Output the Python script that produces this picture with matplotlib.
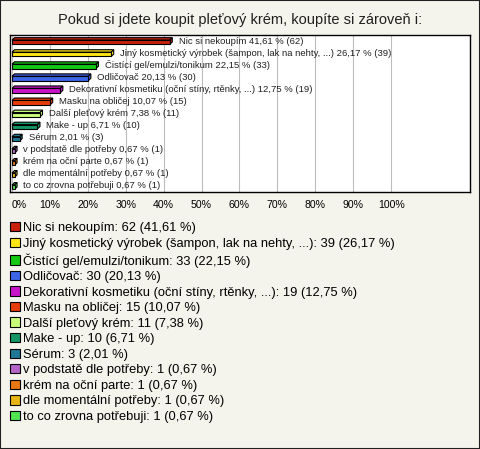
import matplotlib
matplotlib.use('Agg')
import matplotlib.pyplot as plt
from matplotlib.patches import Polygon, Patch, Rectangle

plt.rcParams['font.family'] = ['Liberation Sans', 'DejaVu Sans']

title = 'Pokud si jdete koupit pleťový krém, koupíte si zároveň i:'
categories = [
    'Nic si nekoupím',
    'Jiný kosmetický výrobek (šampon, lak na nehty, ...)',
    'Čistící gel/emulzi/tonikum',
    'Odličovač',
    'Dekorativní kosmetiku (oční stíny, rtěnky, ...)',
    'Masku na obličej',
    'Další pleťový krém',
    'Make - up',
    'Sérum',
    'v podstatě dle potřeby',
    'krém na oční parte',
    'dle momentální potřeby',
    'to co zrovna potřebuji',
]
counts = [62, 39, 33, 30, 19, 15, 11, 10, 3, 1, 1, 1, 1]
percents = [41.61, 26.17, 22.15, 20.13, 12.75, 10.07, 7.38, 6.71, 2.01, 0.67, 0.67, 0.67, 0.67]
colors = ['#C8200C', '#FFE614', '#14C814', '#3C64E6', '#C814C8', '#E63C0A', '#C8FF78',
          '#149664', '#1E7896', '#B464C8', '#E67814', '#E6B414', '#50E650']
xticks = [0, 10, 20, 30, 40, 50, 60, 70, 80, 90, 100]

def fmt(v):
    return f'{v:.2f}'.replace('.', ',')

fig = plt.figure(figsize=(4.8, 4.49), dpi=100, facecolor='#F4F3EC')
fig.patches.append(Rectangle((0, 0), 1, 1, transform=fig.transFigure, fill=False,
                             edgecolor='#202020', lw=1.5))

ax = fig.add_axes([10 / 480, 1 - 192 / 449, 460 / 480, 157 / 449])
ax.set_facecolor('white')
ax.set_xlim(-0.53, 120.8)
n = len(categories)
ax.set_ylim(n - 0.5, -0.5)
ax.set_xticks(xticks)
ax.set_xticklabels([f'{t}%' for t in xticks], fontsize=7.6)
ax.get_xticklabels()[0].set_horizontalalignment('left')
ax.tick_params(axis='x', length=0, pad=5.5)
ax.set_yticks([])
ax.grid(axis='x', color='#BDBDBD', lw=0.8)
ax.set_axisbelow(True)
for s in ax.spines.values():
    s.set_color('black')
    s.set_linewidth(1)

h = 0.36
dx = 0.66
dy = 0.2
for i, (cat, c, p, col) in enumerate(zip(categories, counts, percents, colors)):
    yc = i + dy / 2
    top = yc - h / 2
    bot = yc + h / 2
    faces = [
        [(0, top), (p, top), (p + dx, top - dy), (dx, top - dy)],
        [(p, top), (p + dx, top - dy), (p + dx, bot - dy), (p, bot)],
        [(0, top), (p, top), (p, bot), (0, bot)],
    ]
    for f in faces:
        ax.add_patch(Polygon(f, closed=True, facecolor=col, edgecolor='black', lw=0.8, zorder=3))
    ax.text(p + dx + 1.7, i, f'{cat} {fmt(p)} % ({c})', fontsize=6.8, va='center', ha='left',
            color='#202020', zorder=4)

fig.text(0.5, 1 - 20 / 449, title, ha='center', va='center', fontsize=10.5, color='#202020')

handles = [Patch(facecolor=col, edgecolor='black', lw=0.8) for col in colors]
labels = [f'{cat}: {c} ({fmt(p)} %)' for cat, c, p in zip(categories, counts, percents)]
fig.legend(handles, labels, loc='upper left', bbox_to_anchor=(10 / 480, 1 - 222 / 449),
           frameon=False, fontsize=9.25, handlelength=0.75, handleheight=0.75,
           handletextpad=0.25, labelspacing=0.26, borderpad=0, borderaxespad=0)

fig.savefig('out.png', dpi=100, facecolor=fig.get_facecolor())
